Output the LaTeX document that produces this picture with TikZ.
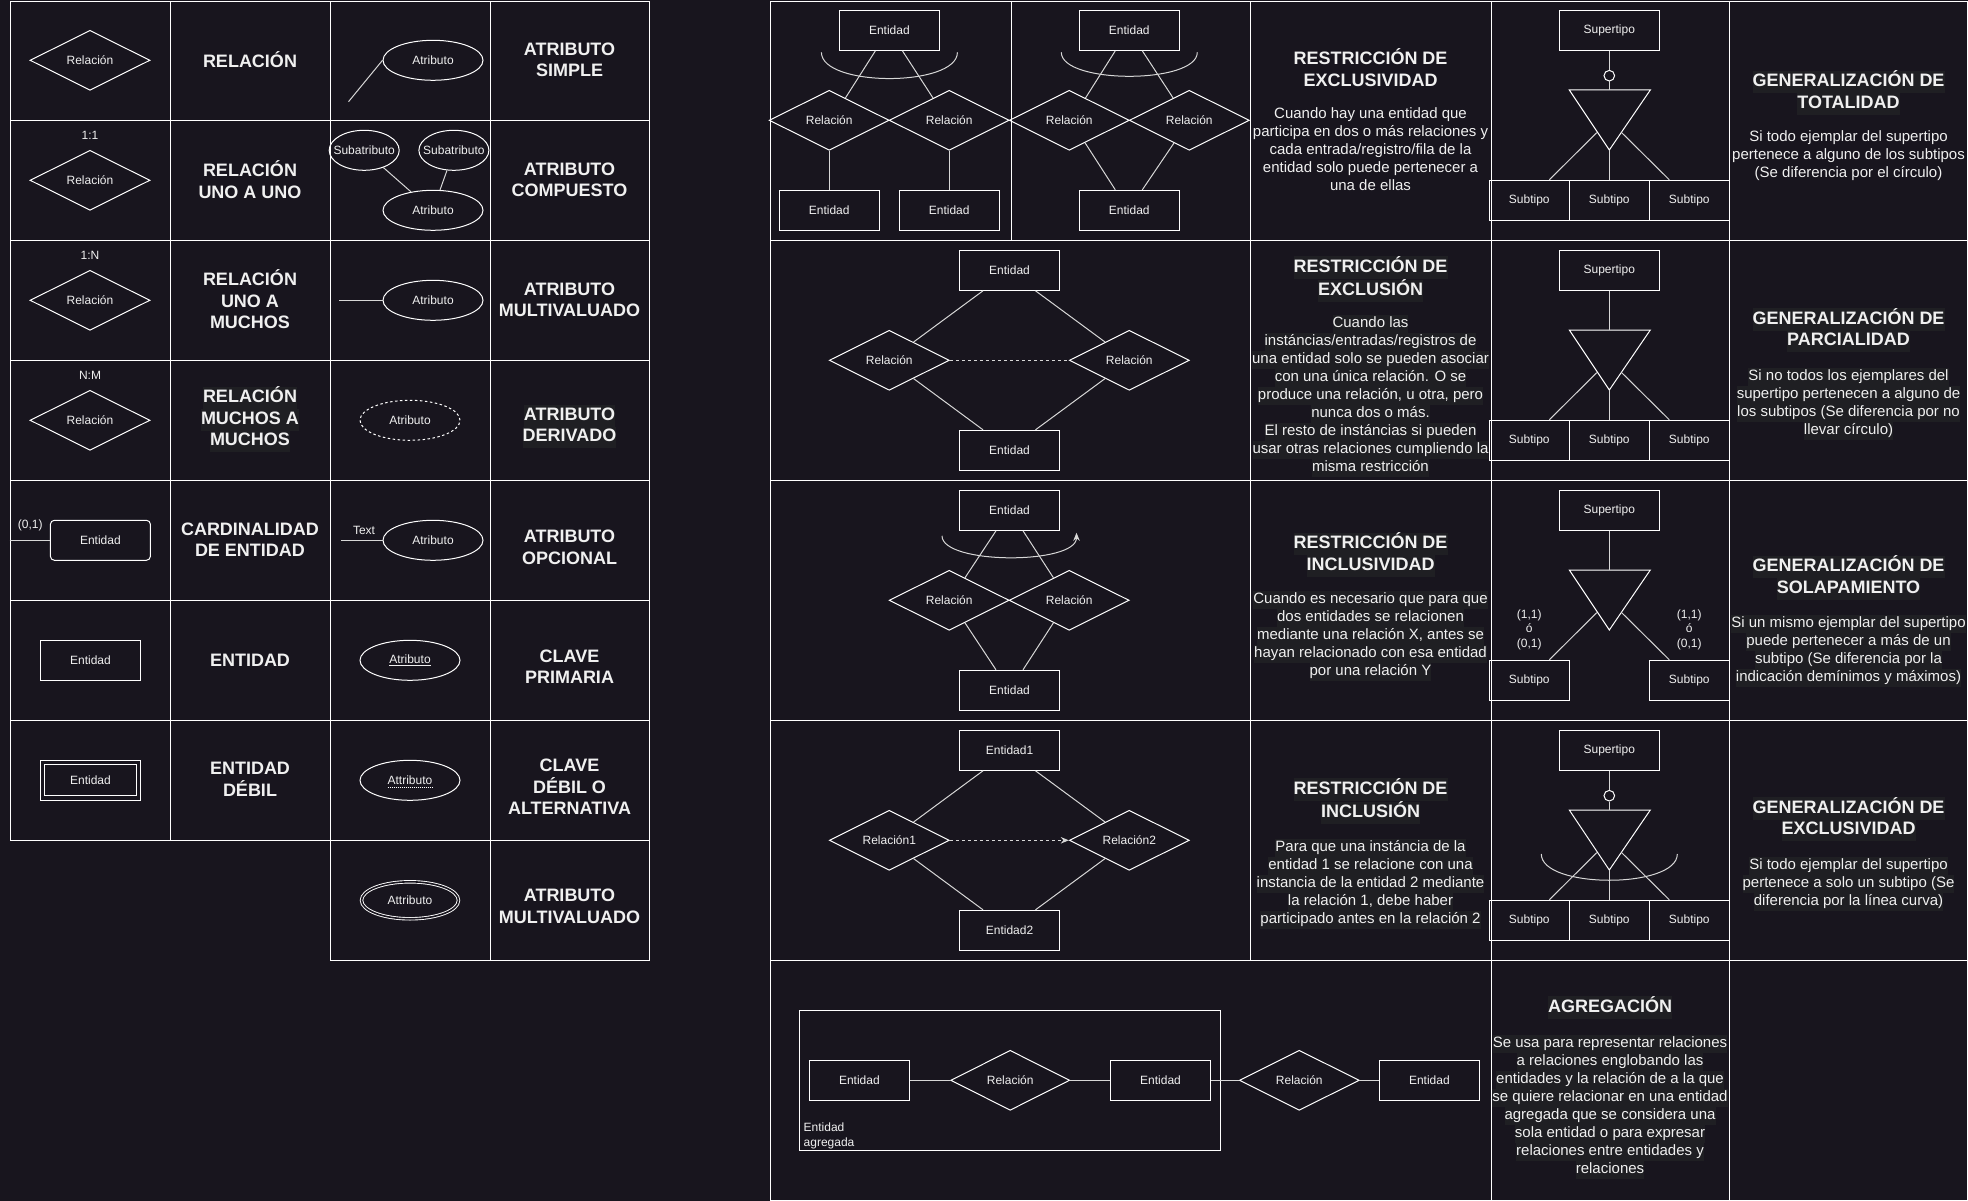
\documentclass[tikz,border=0pt]{standalone}
\usepackage{fontspec}
\setmainfont{Liberation Sans}
\usetikzlibrary{shapes.geometric,calc,arrows.meta}
\definecolor{bgdark}{RGB}{24,21,30}
\definecolor{hlgray}{RGB}{31,31,35}
\definecolor{inkwhite}{RGB}{240,240,240}
\definecolor{linegray}{RGB}{215,215,215}
\newcommand\fs[2]{\fontsize{#1}{#2}\selectfont}
\newcommand\hl[1]{{\setlength\fboxsep{0pt}\colorbox{hlgray}{\strut#1}}}
\newcommand\zw[1]{\makebox[0pt]{#1}}

\begin{document}
\begin{tikzpicture}[x=1pt, y=-1pt,
    cellline/.style={draw=white, line width=0.8pt},
    ent/.style={draw=white, line width=1pt, rectangle, minimum width=100pt, minimum height=40pt, inner sep=0pt, text=inkwhite, font=\fs{12}{14}},
    subt/.style={ent, minimum width=80pt},
    rel/.style={draw=white, line width=1pt, diamond, aspect=2, minimum width=120pt, minimum height=60pt, inner sep=0pt, text=inkwhite, font=\fs{12}{14}},
    attr/.style={draw=white, line width=1pt, ellipse, minimum width=100pt, minimum height=40pt, inner sep=0pt, text=inkwhite, font=\fs{12}{14}},
    ring/.style={draw=white, line width=1pt, circle, minimum size=10.6pt, inner sep=0pt},
    lbl/.style={text=inkwhite, font=\fs{12}{14.2}, inner sep=0pt, align=center},
    ttl/.style={text=inkwhite, font=\bfseries\fs{18}{21.6}, inner sep=0pt, align=center},
    dsc/.style={text=inkwhite, font=\fs{15}{18}, inner sep=0pt, align=center},
    conn/.style={draw=linegray, line width=1pt},
    tip/.style={-{Stealth[length=8pt,width=6.5pt]}},
  ]
    \useasboundingbox (0,0) rectangle (1968,1201);
    \fill[bgdark] (0,0) rectangle (1968,1201);

    % Left table grid
    \draw[cellline] (10,1) rectangle (649,840);
    \foreach \gx in {170,330,490} \draw[cellline] (\gx,1) -- (\gx,840);
    \foreach \gy in {120,240,360,480,600,720} \draw[cellline] (10,\gy) -- (649,\gy);
    \draw[cellline] (330,840) rectangle (649,960) (490,840) -- (490,960);

    % Right table grid
    \draw[cellline] (770,1) rectangle (1967.5,1200.5);
    \foreach \gy in {240,480,720,960} \draw[cellline] (770,\gy) -- (1967.5,\gy);
    \draw[cellline] (1011,1) -- (1011,240);
    \draw[cellline] (1250,1) -- (1250,960);
    \draw[cellline] (1491,1) -- (1491,1200.5) (1729,1) -- (1729,1200.5);

    % Relacion
    \node[rel] (rel1) at (90,60.3) {Relación};
    \node[ttl] (trel1) at (250,60) {RELACIÓN};
    % Atributo simple
    \node[attr] (atr1) at (433,60.3) {Atributo};
    \coordinate (atr1end) at (348.5,101.7);
    \draw[conn] (atr1end) -- (atr1.west);
    \node[ttl] (tatr1) at (569.5,59.9) {ATRIBUTO\\SIMPLE};

    % Relacion uno a uno
    \node[lbl] (card11) at (90,135) {1:1};
    \node[rel] (rel2) at (90,180.3) {Relación};
    \node[ttl] (trel2) at (250,179.9) {RELACIÓN\\UNO A UNO};
    % Atributo compuesto
    \node[attr, minimum width=70pt] (sub1) at (364.2,150.3) {\zw{Subatributo}};
    \node[attr, minimum width=70pt] (sub2) at (453.9,150.3) {\zw{Subatributo}};
    \node[attr] (atr2) at (433,210.3) {Atributo};
    \draw[conn] (sub1.318) -- (atr2.140);
    \draw[conn] (sub2.251) -- (atr2.71);
    \node[ttl] (tatr2) at (569.5,179.9) {ATRIBUTO\\COMPUESTO};

    % Relacion uno a muchos
    \node[lbl] (card1n) at (90,255) {1:N};
    \node[rel] (rel3) at (90,300.3) {Relación};
    \node[ttl] (trel3) at (250,299.5) {RELACIÓN\\UNO A\\MUCHOS};
    % Atributo multivaluado
    \node[attr] (atr3) at (433,300.3) {Atributo};
    \coordinate (atr3end) at (339.2,300.3);
    \draw[conn] (atr3end) -- (atr3.west);
    \node[ttl] (tatr3) at (569.5,299.9) {ATRIBUTO\\MULTIVALUADO};

    % Relacion muchos a muchos
    \node[lbl] (cardnm) at (90,375) {N:M};
    \node[rel] (rel4) at (90,420.3) {Relación};
    \node[ttl] (trel4) at (250,419.4) {\hl{RELACIÓN}\\\hl{MUCHOS A}\\\hl{MUCHOS}};
    % Atributo derivado
    \node[attr, dash pattern=on 2.5pt off 2.5pt] (atr4) at (410,420.3) {Atributo};
    \node[ttl] (tatr4) at (569.5,426.5) {\hl{ATRIBUTO}\\\hl{DERIVADO}};

    % Cardinalidad de entidad
    \node[lbl] (card01) at (30.3,525) {(0,1)};
    \node[ent, rounded corners=4pt] (ent0) at (100.4,540.3) {Entidad};
    \coordinate (ent0end) at (9.5,540.3);
    \draw[conn] (ent0end) -- (ent0.west);
    \node[ttl] (tent0) at (250,539.9) {CARDINALIDAD\\DE ENTIDAD};
    % Atributo opcional
    \node[lbl] (txt5) at (364,530) {Text};
    \node[attr] (atr5) at (433,540.3) {Atributo};
    \coordinate (atr5end) at (341.3,540.3);
    \draw[conn] (atr5end) -- (atr5.west);
    \node[ttl] (tatr5) at (569.5,547.2) {ATRIBUTO\\OPCIONAL};

    % Entidad
    \node[ent] (ent1) at (90.5,660.3) {Entidad};
    \node[ttl] (tent1) at (250,660) {ENTIDAD};
    % Clave primaria
    \node[attr] (atr6) at (410,660.3) {\underline{Atributo}};
    \node[ttl] (tatr6) at (569.5,666.9) {CLAVE\\PRIMARIA};

    % Entidad debil
    \node[ent] (ent2) at (90.5,780.3) {Entidad};
    \draw[draw=white, line width=1pt] ($(ent2.north west)+(4.5,5)$) rectangle ($(ent2.south east)+(-4.5,-5)$);
    \node[ttl] (tent2) at (250,779.5) {ENTIDAD\\DÉBIL};
    % Clave debil
    \node[attr] (atr7) at (410,780.3) {Attributo};
    \draw[white, line width=0.8pt, dash pattern=on 1pt off 1pt] ($(atr7.center)+(-22.5,6.7)$) -- ($(atr7.center)+(22.5,6.7)$);
    \node[ttl] (tatr7) at (569.5,786.9) {CLAVE\\DÉBIL O\\ALTERNATIVA};

    % Atributo multivaluado (doble)
    \node[attr, double=bgdark, double distance=1.6pt, line width=0.9pt, minimum width=97pt, minimum height=37pt] (atr8) at (410,900.3) {Attributo};
    \node[ttl] (tatr8) at (569.5,906.5) {ATRIBUTO\\MULTIVALUADO};

    % Restriccion de exclusividad
    \node[ent] (ex1ent) at (889.4,30.3) {Entidad};
    \node[rel] (ex1rela) at (829.2,120.3) {Relación};
    \node[rel] (ex1relb) at (949.2,120.3) {Relación};
    \node[ent] (ex1entb) at (829.2,210.3) {Entidad};
    \node[ent] (ex1entc) at (949.2,210.3) {Entidad};
    \draw[conn] ($(ex1ent.south)+(-14,0)$) -- (ex1rela.54);
    \draw[conn] ($(ex1ent.south)+(13,0)$) -- (ex1relb.126);
    \draw[conn] (ex1rela.south) -- (ex1entb.north);
    \draw[conn] (ex1relb.south) -- (ex1entc.north);
    \draw[conn] ($(ex1ent.south)+(-68,1.5)$) .. controls +(0,35) and +(0,35) .. ($(ex1ent.south)+(68,1.5)$);

    \node[ent] (ex2ent) at (1129.3,30.3) {Entidad};
    \node[rel] (ex2rela) at (1069.3,120.3) {Relación};
    \node[rel] (ex2relb) at (1189.3,120.3) {Relación};
    \node[ent] (ex2entb) at (1129.3,210.3) {Entidad};
    \draw[conn] ($(ex2ent.south)+(-14,0)$) -- (ex2rela.54);
    \draw[conn] ($(ex2ent.south)+(13,0)$) -- (ex2relb.126);
    \draw[conn] (ex2rela.305) -- ($(ex2entb.north)+(-14,0)$);
    \draw[conn] (ex2relb.236) -- ($(ex2entb.north)+(13,0)$);
    \draw[conn] ($(ex2ent.south)+(-68,1.5)$) .. controls +(0,32) and +(0,32) .. ($(ex2ent.south)+(68,1.5)$);

    \node[ttl] (ex1ttl) at (1370.5,67.7) {RESTRICCIÓN DE\\EXCLUSIVIDAD};
    \node[dsc] (ex1dsc) at (1370.5,149.2) {Cuando hay una entidad que\\participa en dos o más relaciones y\\cada entrada/registro/fila de la\\entidad solo puede pertenecer a\\una de ellas};

    % Restriccion de exclusion
    \node[ent] (exc1) at (1009.5,270.3) {Entidad};
    \node[rel] (excrela) at (889.3,360.3) {Relación};
    \node[rel] (excrelb) at (1129.3,360.3) {Relación};
    \node[ent] (exc2) at (1009.5,450.3) {Entidad};
    \draw[conn] ($(exc1.south)+(-26.5,0)$) -- (excrela.37);
    \draw[conn] ($(exc1.south)+(26,0)$) -- (excrelb.143);
    \draw[conn] (excrela.323) -- ($(exc2.north)+(-26.5,0)$);
    \draw[conn] (excrelb.217) -- ($(exc2.north)+(26,0)$);
    \draw[conn, dash pattern=on 3pt off 3pt] (excrela.east) -- (excrelb.west);

    \node[ttl] (exc1ttl) at (1370.5,279) {\hl{RESTRICCIÓN DE}\\\hl{EXCLUSIÓN}};
    \node[dsc] (exc1dsc) at (1370.5,395.7) {\hl{Cuando las}\\\hl{instáncias/entradas/registros de}\\\hl{una entidad solo se pueden asociar}\\\hl{con una única relación. O se}\\\hl{produce una relación, u otra, pero}\\\hl{nunca dos o más.}\\\hl{El resto de instáncias si pueden}\\\hl{usar otras relaciones cumpliendo la}\\\hl{misma restricción}};

    % Restriccion de inclusividad
    \node[ent] (inc1) at (1009.5,510.3) {Entidad};
    \node[rel] (increla) at (949.2,600.3) {Relación};
    \node[rel] (increlb) at (1069.2,600.3) {Relación};
    \node[ent] (inc2) at (1009.5,690.3) {Entidad};
    \draw[conn] ($(inc1.south)+(-13.5,0)$) -- (increla.55);
    \draw[conn] ($(inc1.south)+(13.5,0)$) -- (increlb.125);
    \draw[conn] (increla.305) -- ($(inc2.north)+(-13.5,0)$);
    \draw[conn] (increlb.235) -- ($(inc2.north)+(13.5,0)$);
    \draw[conn, tip] ($(inc1.south)+(-67.5,5)$) .. controls +(0,29) and +(0,32) .. ($(inc1.south)+(67,2)$);

    \node[ttl] (inc1ttl) at (1370.5,554.9) {\hl{RESTRICCIÓN DE}\\\hl{INCLUSIVIDAD}};
    \node[dsc] (inc1dsc) at (1370.5,636.2) {\hl{Cuando es necesario que para que}\\\hl{dos entidades se relacionen}\\\hl{mediante una relación X, antes se}\\\hl{hayan relacionado con esa entidad}\\\hl{por una relación Y}};

    % Restriccion de inclusion
    \node[ent] (inn1) at (1009.5,750.3) {Entidad1};
    \node[rel] (innrela) at (889.3,840.3) {Relación1};
    \node[rel] (innrelb) at (1129.3,840.3) {Relación2};
    \node[ent] (inn2) at (1009.5,930.3) {Entidad2};
    \draw[conn] ($(inn1.south)+(-26.5,0)$) -- (innrela.37);
    \draw[conn] ($(inn1.south)+(26,0)$) -- (innrelb.143);
    \draw[conn] (innrela.323) -- ($(inn2.north)+(-26.5,0)$);
    \draw[conn] (innrelb.217) -- ($(inn2.north)+(26,0)$);
    \draw[conn, tip, dash pattern=on 3pt off 3pt] (innrela.east) -- (innrelb.west);

    \node[ttl] (inn1ttl) at (1370.5,801.3) {\hl{RESTRICCIÓN DE}\\\hl{INCLUSIÓN}};
    \node[dsc] (inn1dsc) at (1370.5,884.2) {\hl{Para que una instáncia de la}\\\hl{entidad 1 se relacione con una}\\\hl{instancia de la entidad 2 mediante}\\\hl{la relación 1, debe haber}\\\hl{participado antes en la relación 2}};

    % Generalizaciones: supertipo y triangulo
    \foreach \r/\ry in {1/0,2/240,3/480,4/720}{
        \node[ent] (sup\r) at (1609.3,30.3+\ry) {Supertipo};
        \coordinate (top\r) at (1609.3,90+\ry);
        \coordinate (apx\r) at (1609.3,150+\ry);
        \coordinate (lft\r) at (1596.7,132.7+\ry);
        \coordinate (rgt\r) at (1621.7,132.7+\ry);
        \draw[draw=white, line width=1pt] (1569.3,90+\ry) -- (1650.3,90+\ry) -- (apx\r) -- cycle;
    }

    % Totalidad
    \node[ring] (ring1) at (1609.3,75.7) {};
    \draw[conn] (sup1) -- (ring1);
    \draw[conn] (ring1) -- (top1);
    \node[subt] (sb11) at (1529.3,200.3) {Subtipo};
    \node[subt] (sb12) at (1609.3,200.3) {Subtipo};
    \node[subt] (sb13) at (1689.3,200.3) {Subtipo};
    \draw[conn] (sb12) -- (apx1);
    \draw[conn] ($(sb11.north)+(20,0)$) -- (lft1);
    \draw[conn] ($(sb13.north)+(-20,0)$) -- (rgt1);
    \node[ttl] (gen1ttl) at (1848.5,92.9) {\hl{GENERALIZACIÓN DE}\\\hl{TOTALIDAD}};
    \node[dsc] (gen1dsc) at (1848.5,155.7) {Si todo ejemplar del supertipo\\pertenece a alguno de los subtipos\\(Se diferencia por el círculo)};

    % Parcialidad
    \draw[conn] (sup2) -- (top2);
    \node[subt] (sb21) at (1529.3,440.3) {Subtipo};
    \node[subt] (sb22) at (1609.3,440.3) {Subtipo};
    \node[subt] (sb23) at (1689.3,440.3) {Subtipo};
    \draw[conn] (sb22) -- (apx2);
    \draw[conn] ($(sb21.north)+(20,0)$) -- (lft2);
    \draw[conn] ($(sb23.north)+(-20,0)$) -- (rgt2);
    \node[ttl] (gen2ttl) at (1848.5,330.3) {\hl{GENERALIZACIÓN DE}\\\hl{PARCIALIDAD}};
    \node[dsc] (gen2dsc) at (1848.5,403.7) {\hl{Si no todos los ejemplares del}\\\hl{supertipo pertenecen a alguno de}\\\hl{los subtipos (Se diferencia por no}\\\hl{llevar círculo)}};

    % Solapamiento
    \draw[conn] (sup3) -- (top3);
    \node[subt] (sb31) at (1529.3,680.3) {Subtipo};
    \node[subt] (sb33) at (1689.3,680.3) {Subtipo};
    \draw[conn] ($(sb31.north)+(20,0)$) -- (lft3);
    \draw[conn] ($(sb33.north)+(-20,0)$) -- (rgt3);
    \node[lbl] (card31) at (1529.3,629.7) {(1,1)\\ó\\(0,1)};
    \node[lbl] (card33) at (1689.3,629.7) {(1,1)\\ó\\(0,1)};
    \node[ttl] (gen3ttl) at (1848.5,577.9) {\hl{GENERALIZACIÓN DE}\\\hl{SOLAPAMIENTO}};
    \node[dsc] (gen3dsc) at (1848.5,650.9) {\hl{Si un mismo ejemplar del supertipo}\\\hl{puede pertenecer a más de un}\\\hl{subtipo (Se diferencia por la}\\\hl{indicación demínimos y máximos)}};

    % Exclusividad
    \node[ring] (ring4) at (1609.3,795.7) {};
    \draw[conn] (sup4) -- (ring4);
    \draw[conn] (ring4) -- (top4);
    \node[subt] (sb41) at (1529.3,920.3) {Subtipo};
    \node[subt] (sb42) at (1609.3,920.3) {Subtipo};
    \node[subt] (sb43) at (1689.3,920.3) {Subtipo};
    \draw[conn] (sb42) -- (apx4);
    \draw[conn] ($(sb41.north)+(20,0)$) -- (lft4);
    \draw[conn] ($(sb43.north)+(-20,0)$) -- (rgt4);
    \draw[conn] ($(apx4)+(-68,-16)$) .. controls +(0,35) and +(0,35) .. ($(apx4)+(68,-16)$);
    \node[ttl] (gen4ttl) at (1848.5,819.4) {\hl{GENERALIZACIÓN DE}\\\hl{EXCLUSIVIDAD}};
    \node[dsc] (gen4dsc) at (1848.5,884) {\hl{Si todo ejemplar del supertipo}\\\hl{pertenece a solo un subtipo (Se}\\\hl{diferencia por la línea curva)}};

    % Agregacion
    \node[draw=white, line width=1pt, minimum width=420.5pt, minimum height=140pt, inner sep=0pt] (agbox) at (1009.75,1080.3) {};
    \node[ent] (ag1) at (859.4,1080.3) {Entidad};
    \node[rel, minimum width=119pt] (agr1) at (1010.2,1080.3) {Relación};
    \node[ent] (ag2) at (1160.5,1080.3) {Entidad};
    \node[rel] (agr2) at (1299.3,1080.3) {Relación};
    \node[ent] (ag3) at (1429.4,1080.3) {Entidad};
    \draw[conn] (ag1) -- (agr1);
    \draw[conn] (agr1) -- (ag2);
    \draw[conn] (ag2) -- (agr2);
    \draw[conn] (agr2) -- (ag3);
    \node[lbl, align=left, anchor=west, font=\fs{12}{15}] (aglbl) at (803.5,1135.7) {Entidad\\agregada};
    \node[ttl] (agttl) at (1610,1007.3) {\hl{AGREGACIÓN}};
    \node[dsc] (agdsc) at (1610,1107) {\hl{Se usa para representar relaciones}\\\hl{a relaciones englobando las}\\\hl{entidades y la relación de a la que}\\\hl{se quiere relacionar en una entidad}\\\hl{agregada que se considera una}\\\hl{sola entidad o para expresar}\\\hl{relaciones entre entidades y}\\\hl{relaciones}};
\end{tikzpicture}
\end{document}
